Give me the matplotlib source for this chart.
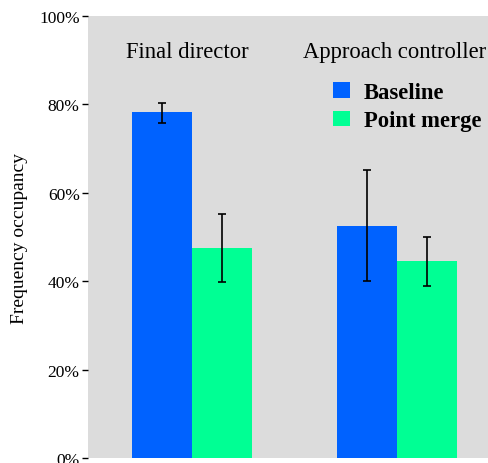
import matplotlib
matplotlib.use("Agg")
import matplotlib.pyplot as plt
import numpy as np

groups = ["Final director", "Approach controller"]
series = ["Baseline", "Point merge"]
baseline = [78.3, 52.5]
baseline_lo = [75.8, 40.0]
baseline_hi = [80.3, 65.2]
pointmerge = [47.5, 44.6]
pointmerge_lo = [39.8, 38.9]
pointmerge_hi = [55.2, 50.0]
yticks = [0, 20, 40, 60, 80, 100]
ytick_labels = ["0%", "20%", "40%", "60%", "80%", "100%"]
colors = ["#0062FF", "#00FF94"]

plt.rcParams['font.family'] = ['Liberation Serif', 'DejaVu Serif']

fig = plt.figure(figsize=(4.88, 4.64), dpi=100)
ax = fig.add_axes([88/488, 5/464, 1 - 88/488, 442/464])
ax.set_facecolor("#DCDCDC")

x = np.arange(len(groups))
w = 0.293
vals = [baseline, pointmerge]
los = [baseline_lo, pointmerge_lo]
his = [baseline_hi, pointmerge_hi]
for i, (v, lo, hi) in enumerate(zip(vals, los, his)):
    xs = x + (i - 0.5) * w
    v = np.array(v); lo = np.array(lo); hi = np.array(hi)
    ax.bar(xs, v, width=w, color=colors[i], label=series[i], zorder=2)
    ax.errorbar(xs, v, yerr=[v - lo, hi - v], fmt='none', ecolor='black',
                elinewidth=1.2, capsize=3, capthick=1.2, zorder=3)

for xi, g, off in zip(x, groups, [-0.025, -0.01]):
    ax.text(xi + off, 92.0, g, ha='center', va='center', fontsize=16.3)

ax.set_xlim(-0.507, 1.444)
ax.set_ylim(0, 100)
ax.set_yticks(yticks)
ax.set_yticklabels(ytick_labels, fontsize=12.5)
ax.set_xticks([])
for s in ax.spines.values():
    s.set_visible(False)
ax.tick_params(axis='y', length=4, width=1, pad=2)
ax.set_ylabel("Frequency occupancy", fontsize=14, labelpad=8)

leg = ax.legend(loc='upper left', bbox_to_anchor=(0.6, 0.88), frameon=False,
                prop={'weight': 'bold', 'size': 16.3}, handlelength=0.75,
                handleheight=0.65, handletextpad=0.6, labelspacing=0.32,
                borderaxespad=0, borderpad=0)
inv = ax.transAxes.inverted()
x0 = inv.transform((333, 464 - 83))
leg.set_bbox_to_anchor((x0[0], x0[1]), transform=ax.transAxes)

fig.savefig("out.png", dpi=100)
